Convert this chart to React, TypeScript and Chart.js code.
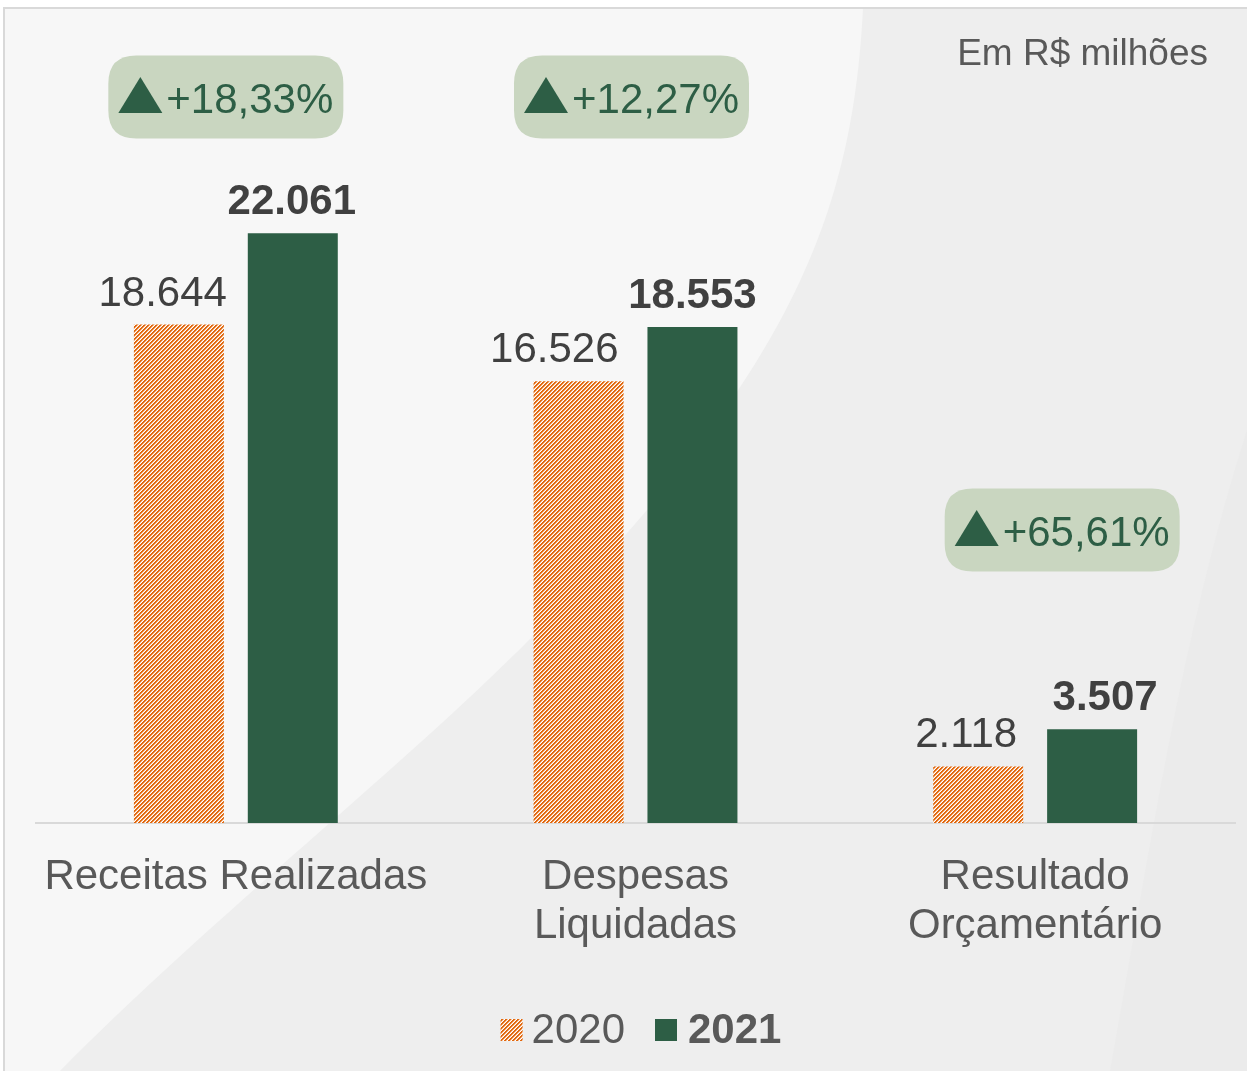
import React, { useEffect, useRef } from "react";
import { Chart, registerables } from "chart.js";

Chart.register(...registerables);

const categories = [["Receitas Realizadas"], ["Despesas", "Liquidadas"], ["Resultado", "Orçamentário"]];
const seriesNames = ["2020", "2021"];
const values2020 = [18644, 16526, 2118];
const values2021 = [22061, 18553, 3507];
const changeLabels = ["+18,33%", "+12,27%", "+65,61%"];
const unitLabel = "Em R$ milhões";

const ORANGE = "#E2690F";
const GREEN = "#2D5E45";
const BADGE_BG = "#C9D6C0";
const FONT = "'Liberation Sans', Arial, sans-serif";

function fmt(n: number) {
  return String(n).replace(/\B(?=(\d{3})+(?!\d))/g, ".");
}

function makeHatch(): CanvasPattern | string {
  const c = document.createElement("canvas");
  c.width = 4;
  c.height = 4;
  const g = c.getContext("2d");
  if (!g) return ORANGE;
  g.fillStyle = "#ffffff";
  g.fillRect(0, 0, 4, 4);
  for (let y = 0; y < 4; y++) {
    for (let x = 0; x < 4; x++) {
      const k = (x + y) % 4;
      if (k === 0 || k === 1) {
        g.fillStyle = ORANGE;
        g.fillRect(x, y, 1, 1);
      } else if (k === 2) {
        g.fillStyle = "#F4C29E";
        g.fillRect(x, y, 1, 1);
      }
    }
  }
  const p = g.createPattern(c, "repeat");
  return p || ORANGE;
}

function roundRect(ctx: CanvasRenderingContext2D, x: number, y: number, w: number, h: number, r: number) {
  ctx.beginPath();
  ctx.moveTo(x + r, y);
  ctx.lineTo(x + w - r, y);
  ctx.quadraticCurveTo(x + w, y, x + w, y + r);
  ctx.lineTo(x + w, y + h - r);
  ctx.quadraticCurveTo(x + w, y + h, x + w - r, y + h);
  ctx.lineTo(x + r, y + h);
  ctx.quadraticCurveTo(x, y + h, x, y + h - r);
  ctx.lineTo(x, y + r);
  ctx.quadraticCurveTo(x, y, x + r, y);
  ctx.closePath();
}

const backgroundPlugin = {
  id: "bgPlugin",
  beforeDraw(chart: any) {
    const ctx: CanvasRenderingContext2D = chart.ctx;
    const W = chart.width;
    const H = chart.height;
    ctx.save();
    ctx.fillStyle = "#ffffff";
    ctx.fillRect(0, 0, W, H);
    ctx.fillStyle = "#eeeeee";
    ctx.fillRect(4, 8, W - 4, H - 8);
    // lighter left region
    ctx.fillStyle = "#f7f7f7";
    ctx.beginPath();
    ctx.moveTo(4, 8);
    ctx.lineTo(863, 8);
    ctx.bezierCurveTo(852, 230, 780, 380, 531, 638);
    ctx.bezierCurveTo(400, 770, 220, 910, 60, H);
    ctx.lineTo(4, H);
    ctx.closePath();
    ctx.fill();
    // darker right band
    ctx.fillStyle = "#ebebeb";
    ctx.beginPath();
    ctx.moveTo(W, 430);
    ctx.bezierCurveTo(1180, 640, 1150, 850, 1110, H);
    ctx.lineTo(W, H);
    ctx.closePath();
    ctx.fill();
    // border
    ctx.strokeStyle = "#d9d9d9";
    ctx.lineWidth = 2;
    ctx.beginPath();
    ctx.moveTo(4, H);
    ctx.lineTo(4, 8);
    ctx.lineTo(W, 8);
    ctx.stroke();
    ctx.restore();
  },
};

const annotPlugin = {
  id: "annotPlugin",
  afterDatasetsDraw(chart: any) {
    const ctx: CanvasRenderingContext2D = chart.ctx;
    const xScale = chart.scales.x;
    ctx.save();
    // value labels
    const m0 = chart.getDatasetMeta(0);
    const m1 = chart.getDatasetMeta(1);
    const shift0 = [3, -5, -6];
    const shift1 = [-1, 0, 13];
    ctx.textBaseline = "alphabetic";
    ctx.fillStyle = "#404040";
    ctx.font = `42px ${FONT}`;
    ctx.textAlign = "right";
    m0.data.forEach((bar: any, i: number) => {
      ctx.fillText(fmt(values2020[i]), bar.x + bar.width / 2 + shift0[i], bar.y - 19);
    });
    ctx.font = `bold 42px ${FONT}`;
    ctx.textAlign = "center";
    m1.data.forEach((bar: any, i: number) => {
      ctx.fillText(fmt(values2021[i]), bar.x + shift1[i], bar.y - 19);
    });

    // badges
    const offs = [-10, -4, 27];
    const ys = [97, 97, 530];
    changeLabels.forEach((lab, i) => {
      const cx = xScale.getPixelForValue(i) + offs[i];
      const cy = ys[i];
      const w = 235;
      const h = 83;
      ctx.fillStyle = BADGE_BG;
      roundRect(ctx, cx - w / 2, cy - h / 2, w, h, 28);
      ctx.fill();
      ctx.font = `42px ${FONT}`;
      const tw = ctx.measureText(lab).width;
      const triW = 44;
      const gap = 4;
      const startX = cx - (triW + gap + tw) / 2;
      const base = cy + 16;
      ctx.fillStyle = GREEN;
      ctx.beginPath();
      ctx.moveTo(startX, base);
      ctx.lineTo(startX + triW, base);
      ctx.lineTo(startX + triW / 2, base - 36);
      ctx.closePath();
      ctx.fill();
      ctx.textAlign = "left";
      ctx.fillText(lab, startX + triW + gap, base);
    });

    // unit label
    ctx.fillStyle = "#595959";
    ctx.font = `37px ${FONT}`;
    ctx.textAlign = "right";
    ctx.fillText(unitLabel, 1208, 65);

    // legend
    const ds0 = chart.data.datasets[0];
    ctx.font = `42px ${FONT}`;
    const w0 = ctx.measureText(seriesNames[0]).width;
    ctx.font = `bold 42px ${FONT}`;
    const w1 = ctx.measureText(seriesNames[1]).width;
    const box = 22;
    const total = box + 9 + w0 + 30 + box + 11 + w1;
    let lx = 641 - total / 2;
    const ly = 1043;
    ctx.fillStyle = ds0.backgroundColor;
    ctx.fillRect(lx, ly - 24, box, box);
    lx += box + 9;
    ctx.fillStyle = "#595959";
    ctx.font = `42px ${FONT}`;
    ctx.textAlign = "left";
    ctx.fillText(seriesNames[0], lx, ly);
    lx += w0 + 30;
    ctx.fillStyle = GREEN;
    ctx.fillRect(lx, ly - 24, box, box);
    lx += box + 11;
    ctx.fillStyle = "#595959";
    ctx.font = `bold 42px ${FONT}`;
    ctx.fillText(seriesNames[1], lx, ly);
    ctx.restore();
  },
};

export default function App() {
  const ref = useRef<HTMLCanvasElement | null>(null);
  useEffect(() => {
    const canvas = ref.current;
    if (!canvas) return;
    const hatch = makeHatch();
    const chart = new Chart(canvas, {
      type: "bar",
      data: {
        labels: categories,
        datasets: [
          {
            label: seriesNames[0],
            data: values2020,
            backgroundColor: hatch as any,
            borderWidth: 0,
            categoryPercentage: 0.57,
            barPercentage: 0.79,
          },
          {
            label: seriesNames[1],
            data: values2021,
            backgroundColor: GREEN,
            borderWidth: 0,
            categoryPercentage: 0.57,
            barPercentage: 0.79,
          },
        ],
      },
      options: {
        responsive: false,
        animation: false,
        devicePixelRatio: 1,
        events: [],
        layout: { padding: { top: 21, bottom: 98, left: 36, right: 12 } },
        plugins: {
          legend: { display: false },
          tooltip: { enabled: false },
          title: { display: false },
        },
        scales: {
          x: {
            grid: { display: false, drawTicks: false },
            border: { display: true, color: "#d9d9d9", width: 2 },
            ticks: {
              color: "#595959",
              font: { family: FONT, size: 42, lineHeight: 1.16 },
              padding: 30,
              maxRotation: 0,
              autoSkip: false,
            },
            afterFit: (scale: any) => {
              scale.height = 150;
            },
          },
          y: {
            display: false,
            min: 0,
            max: 30000,
          },
        },
      },
      plugins: [backgroundPlugin, annotPlugin],
    });
    return () => chart.destroy();
  }, []);
  return (
    <div style={{ position: "absolute", left: 0, top: 0, width: 1247, height: 1071 }}>
      <canvas ref={ref} width={1247} height={1071} style={{ display: "block", width: 1247, height: 1071 }} />
    </div>
  );
}
